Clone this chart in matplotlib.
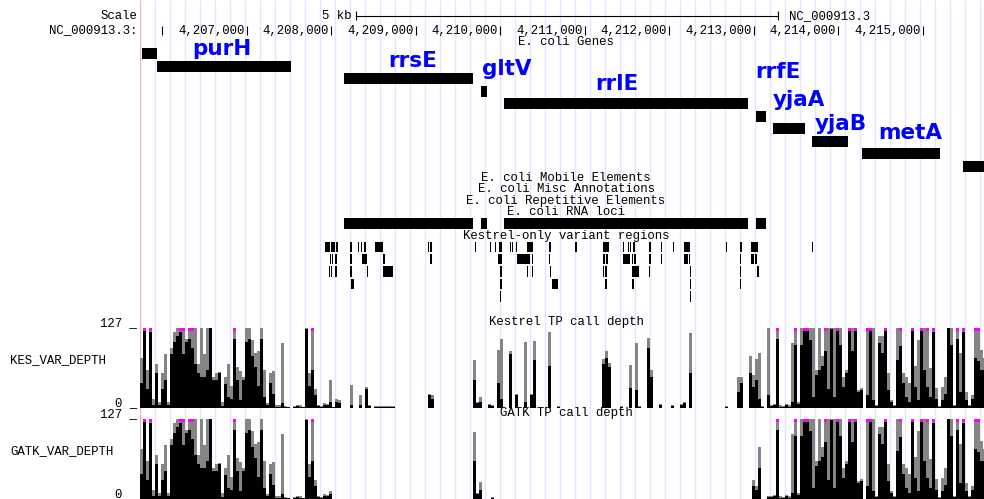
import matplotlib
matplotlib.use('Agg')
import matplotlib.pyplot as plt
import numpy as np

# browser window (bp) and image layout (px)
win_start = 4205734
win_end = 4215722
img_w, img_h = 984, 499
data_left = 140

# E. coli Genes
gene_names = ['', 'purH', 'rrsE', 'gltV', 'rrlE', 'rrfE', 'yjaA', 'yjaB', 'metA', '']
gene_starts = [4205758, 4205935, 4208148, 4209769, 4210042, 4213024, 4213225, 4213686, 4214278, 4215473]
gene_ends = [4205935, 4207521, 4209675, 4209840, 4212929, 4213142, 4213604, 4214112, 4215201, 4216000]
label_x = [0, 4206704, 4208965, 4210077, 4211379, 4213284, 4213533, 4214030, 4214846, 0]
label_y = [0, 55, 67, 75, 90, 78, 106, 130, 139, 0]

# E. coli RNA loci
rna_starts = [4208148, 4209769, 4210042, 4213024]
rna_ends = [4209675, 4209840, 4212929, 4213142]

# Kestrel-only variant regions (start, end, packed row)
var_starts = [
    4207923, 4207994, 4208053, 4208219, 4208314, 4208349, 4208385, 4208515, 4209142, 4209166,
    4209698, 4209876, 4209935, 4209982, 4210113, 4210136, 4210184, 4210314, 4210574, 4210882,
    4211213, 4211450, 4211509, 4211533, 4211568, 4211758, 4211900, 4212042, 4212172, 4212669,
    4212834, 4212965, 4213686,
    4207982, 4208006, 4208042, 4208219, 4208361, 4208610, 4209166, 4209971, 4210195, 4210373,
    4210574, 4211213, 4211249, 4211450, 4211556, 4211580, 4211758, 4211900, 4212172, 4212231,
    4212834, 4212965, 4213012,
    4207971, 4207994, 4208042, 4208219, 4208420, 4208610, 4209994, 4210314, 4210373, 4210586,
    4211213, 4211237, 4211556, 4211758, 4212243, 4212834, 4213036,
    4208231, 4209994, 4210610, 4211237, 4211556, 4212243, 4212834,
    4209994, 4212243]
var_ends = [
    4207982, 4208042, 4208077, 4208243, 4208326, 4208361, 4208408, 4208610, 4209154, 4209190,
    4209710, 4209888, 4209947, 4210018, 4210124, 4210148, 4210195, 4210385, 4210598, 4210906,
    4211284, 4211462, 4211521, 4211545, 4211592, 4211781, 4211911, 4212053, 4212243, 4212681,
    4212858, 4213047, 4213698,
    4207994, 4208018, 4208065, 4208243, 4208420, 4208633, 4209190, 4210018, 4210349, 4210385,
    4210586, 4211237, 4211272, 4211533, 4211568, 4211604, 4211781, 4211911, 4212219, 4212243,
    4212846, 4213000, 4213036,
    4207982, 4208006, 4208065, 4208243, 4208432, 4208728, 4210018, 4210326, 4210385, 4210598,
    4211225, 4211260, 4211639, 4211769, 4212255, 4212846, 4213059,
    4208266, 4210018, 4210681, 4211260, 4211580, 4212255, 4212846,
    4210006, 4212255]
var_rows = [0] * 33 + [1] * 23 + [2] * 17 + [3] * 7 + [4] * 2

# depth summaries, one value per 35.5 bp bin (values above 127 are clipped)
depth_start = 4205734
depth_step = 35.5
kes_max = [
    80, 140, 60, 140, 15, 70, 10, 55, 85, 10,
    95, 120, 127, 140, 140, 110, 140, 140, 127, 70,
    127, 85, 127, 127, 50, 55, 57, 10, 50, 70,
    35, 140, 65, 58, 50, 127, 127, 108, 87, 90,
    127, 60, 8, 55, 58, 4, 5, 103, 3, 2,
    0, 3, 5, 4, 2, 127, 55, 140, 30, 5,
    3, 8, 6, 45, 2, 14, 12, 0, 0, 0,
    37, 0, 0, 20, 0, 34, 5, 0, 3, 3,
    3, 3, 3, 3, 3, 0, 0, 0, 0, 0,
    0, 0, 0, 0, 0, 0, 23, 20, 0, 0,
    0, 0, 0, 0, 0, 0, 0, 0, 0, 0,
    0, 76, 10, 18, 0, 0, 7, 4, 0, 92,
    109, 0, 0, 91, 0, 23, 0, 0, 105, 0,
    23, 107, 0, 0, 0, 0, 121, 0, 0, 3,
    0, 0, 0, 0, 0, 0, 0, 0, 0, 0,
    0, 0, 0, 0, 77, 90, 71, 0, 0, 0,
    3, 0, 0, 68, 0, 103, 3, 0, 0, 111,
    60, 0, 0, 7, 0, 0, 0, 4, 0, 0,
    7, 10, 0, 119, 0, 0, 0, 0, 0, 0,
    0, 0, 0, 0, 0, 3, 0, 0, 0, 50,
    50, 0, 0, 82, 53, 78, 87, 3, 0, 127,
    5, 7, 140, 4, 3, 7, 5, 103, 140, 10,
    127, 140, 140, 127, 127, 60, 127, 82, 140, 127,
    127, 127, 140, 127, 50, 61, 140, 127, 140, 29,
    32, 0, 140, 140, 127, 5, 114, 114, 140, 55,
    13, 5, 127, 140, 55, 50, 39, 140, 66, 108,
    140, 127, 140, 63, 140, 31, 3, 34, 50, 127,
    127, 5, 140, 87, 140, 26, 5, 20, 140, 140,
    92, 80]
kes_mean = [
    40, 127, 30, 120, 5, 55, 5, 30, 45, 5,
    85, 105, 115, 120, 85, 105, 110, 95, 70, 55,
    50, 50, 60, 127, 45, 45, 55, 3, 38, 18,
    15, 110, 45, 12, 45, 105, 110, 82, 65, 35,
    110, 18, 5, 40, 23, 2, 2, 8, 1, 1,
    0, 2, 3, 2, 1, 125, 35, 60, 20, 3,
    2, 5, 4, 10, 1, 10, 8, 0, 0, 0,
    5, 0, 0, 5, 0, 30, 3, 0, 2, 2,
    2, 2, 2, 2, 2, 0, 0, 0, 0, 0,
    0, 0, 0, 0, 0, 0, 20, 15, 0, 0,
    0, 0, 0, 0, 0, 0, 0, 0, 0, 0,
    0, 45, 8, 10, 0, 0, 5, 3, 0, 40,
    15, 0, 0, 85, 0, 20, 0, 0, 10, 0,
    20, 76, 0, 0, 0, 0, 66, 0, 0, 2,
    0, 0, 0, 0, 0, 0, 0, 0, 0, 0,
    0, 0, 0, 0, 70, 80, 65, 0, 0, 0,
    2, 0, 0, 31, 0, 29, 2, 0, 0, 95,
    50, 0, 0, 5, 0, 0, 0, 3, 0, 0,
    5, 8, 0, 55, 0, 0, 0, 0, 0, 0,
    0, 0, 0, 0, 0, 2, 0, 0, 0, 26,
    40, 0, 0, 55, 34, 45, 15, 2, 0, 20,
    3, 5, 110, 2, 1, 5, 2, 10, 100, 7,
    100, 127, 127, 108, 18, 52, 60, 66, 90, 30,
    125, 18, 127, 100, 34, 55, 127, 90, 125, 26,
    29, 0, 20, 127, 13, 3, 103, 87, 127, 29,
    10, 3, 76, 98, 39, 18, 10, 127, 34, 13,
    127, 61, 34, 18, 120, 15, 2, 13, 23, 127,
    100, 3, 110, 26, 120, 13, 3, 15, 79, 74,
    61, 60]
gatk_max = [
    80, 140, 60, 140, 15, 70, 10, 55, 85, 10,
    95, 120, 127, 140, 140, 110, 140, 140, 127, 70,
    127, 85, 127, 127, 50, 55, 57, 10, 50, 70,
    35, 140, 65, 58, 50, 127, 127, 108, 87, 90,
    127, 60, 8, 55, 58, 4, 5, 103, 3, 2,
    0, 3, 5, 4, 2, 127, 55, 140, 30, 5,
    3, 8, 6, 12, 0, 0, 0, 0, 0, 0,
    0, 0, 0, 0, 0, 0, 0, 0, 0, 0,
    0, 0, 0, 0, 0, 0, 0, 0, 0, 0,
    0, 0, 0, 0, 0, 0, 0, 0, 0, 0,
    0, 0, 0, 0, 0, 0, 0, 0, 0, 0,
    0, 107, 10, 27, 0, 0, 0, 3, 0, 0,
    0, 0, 0, 0, 0, 0, 0, 0, 0, 0,
    0, 0, 0, 0, 0, 0, 0, 0, 0, 0,
    0, 0, 0, 0, 0, 0, 0, 0, 0, 0,
    0, 0, 0, 0, 0, 0, 0, 0, 0, 0,
    0, 0, 0, 0, 0, 0, 0, 0, 0, 0,
    0, 0, 0, 0, 0, 0, 0, 0, 0, 0,
    0, 0, 0, 0, 0, 0, 0, 0, 0, 0,
    0, 0, 0, 0, 0, 0, 0, 0, 0, 0,
    0, 0, 0, 0, 30, 20, 83, 0, 0, 5,
    5, 7, 140, 4, 3, 7, 5, 103, 140, 10,
    127, 140, 140, 127, 127, 60, 127, 82, 140, 127,
    127, 127, 140, 127, 50, 61, 140, 127, 140, 29,
    32, 0, 140, 140, 127, 5, 114, 114, 140, 55,
    13, 5, 127, 140, 55, 50, 39, 140, 66, 108,
    140, 127, 140, 63, 140, 31, 3, 34, 50, 127,
    127, 5, 140, 87, 140, 26, 5, 20, 140, 140,
    92, 80]
gatk_mean = [
    40, 127, 30, 120, 5, 55, 5, 30, 45, 5,
    85, 105, 115, 120, 85, 105, 110, 95, 70, 55,
    50, 50, 60, 127, 45, 45, 55, 3, 38, 18,
    15, 110, 45, 12, 45, 105, 110, 82, 65, 35,
    110, 18, 5, 40, 23, 2, 2, 8, 1, 1,
    0, 2, 3, 2, 1, 125, 35, 60, 20, 3,
    2, 5, 4, 8, 0, 0, 0, 0, 0, 0,
    0, 0, 0, 0, 0, 0, 0, 0, 0, 0,
    0, 0, 0, 0, 0, 0, 0, 0, 0, 0,
    0, 0, 0, 0, 0, 0, 0, 0, 0, 0,
    0, 0, 0, 0, 0, 0, 0, 0, 0, 0,
    0, 60, 8, 15, 0, 0, 0, 2, 0, 0,
    0, 0, 0, 0, 0, 0, 0, 0, 0, 0,
    0, 0, 0, 0, 0, 0, 0, 0, 0, 0,
    0, 0, 0, 0, 0, 0, 0, 0, 0, 0,
    0, 0, 0, 0, 0, 0, 0, 0, 0, 0,
    0, 0, 0, 0, 0, 0, 0, 0, 0, 0,
    0, 0, 0, 0, 0, 0, 0, 0, 0, 0,
    0, 0, 0, 0, 0, 0, 0, 0, 0, 0,
    0, 0, 0, 0, 0, 0, 0, 0, 0, 0,
    0, 0, 0, 0, 20, 15, 50, 0, 0, 3,
    3, 5, 110, 2, 1, 5, 2, 10, 100, 7,
    100, 127, 127, 108, 18, 52, 60, 66, 90, 30,
    125, 18, 127, 100, 34, 55, 127, 90, 125, 26,
    29, 0, 20, 127, 13, 3, 103, 87, 127, 29,
    10, 3, 76, 98, 39, 18, 10, 127, 34, 13,
    127, 61, 34, 18, 120, 15, 2, 13, 23, 127,
    100, 3, 110, 26, 120, 13, 3, 15, 79, 74,
    61, 60]

mono = ['Liberation Mono', 'DejaVu Sans Mono']
fs = 8.9

fig = plt.figure(figsize=(img_w / 100, img_h / 100), dpi=100)
fig.patch.set_facecolor('white')

# full-image axes in pixels for the left-hand labels
bg = fig.add_axes([0, 0, 1, 1])
bg.set_xlim(0, img_w)
bg.set_ylim(img_h, 0)
bg.axis('off')

# data axes: genomic x, pixel y
ax = fig.add_axes([data_left / img_w, 0, (img_w - data_left) / img_w, 1])
ax.set_xlim(win_start, win_end)
ax.set_ylim(img_h, 0)
ax.axis('off')
ax.patch.set_visible(False)

bp_px = (win_end - win_start) / (img_w - data_left)

# guide lines every 15 px
grid = win_start + np.arange(0, 57) * 15 * bp_px
ax.vlines(grid[1:], 0, img_h, color='#e3e3ff', lw=0.9, zorder=0)
ax.vlines(grid[0] + 0.5 * bp_px, 0, img_h, color='#f4b0b0', lw=0.9, zorder=0)

# ---- base position / scale ----
bg.text(137, 16, 'Scale', ha='right', va='center', family=mono, fontsize=fs)
bg.text(137, 30.5, 'NC_000913.3:', ha='right', va='center', family=mono, fontsize=fs)
sb_center = (win_start + win_end) / 2 + 5 * bp_px
sb0, sb1 = sb_center - 2500, sb_center + 2500
ax.plot([sb0, sb1], [15.5, 15.5], color='black', lw=0.8)
ax.vlines([sb0, sb1], 11, 20, color='black', lw=0.8)
ax.text(sb0 - 4 * bp_px, 16, '5 kb', ha='right', va='center', family=mono, fontsize=fs)
ax.text(sb1 + 11 * bp_px, 16, 'NC_000913.3', ha='left', va='center', family=mono, fontsize=fs)
ticks = np.arange(4206000, 4216000, 1000)
ax.vlines(ticks, 25.5, 35, color='black', lw=0.8)
for t in ticks[1:]:
    ax.text(t - 2.5 * bp_px, 30.5, f'{t:,}', ha='right', va='center', family=mono, fontsize=fs)

mid = (win_start + win_end) / 2 + 4 * bp_px

# ---- genes ----
ax.text(mid, 41.5, 'E. coli Genes', ha='center', va='center', family=mono, fontsize=fs)
for k, (s, e) in enumerate(zip(gene_starts, gene_ends)):
    ax.bar(s, 11, width=e - s, bottom=48 + 12.55 * k, align='edge', color='black',
           linewidth=0, antialiased=False)
for name, lx, ly in zip(gene_names, label_x, label_y):
    if name:
        ax.text(lx, ly, name, ha='center', va='baseline', color='#0000ff',
                fontsize=15.5, fontweight='bold', family='DejaVu Sans')

# ---- other annotation tracks ----
for y, txt in [(178, 'E. coli Mobile Elements'), (189.5, 'E. coli Misc Annotations'),
               (201, 'E. coli Repetitive Elements'), (212, 'E. coli RNA loci'),
               (236, 'Kestrel-only variant regions')]:
    ax.text(mid, y, txt, ha='center', va='center', family=mono, fontsize=fs)
rs = np.array(rna_starts)
ax.bar(rs, 11, width=np.array(rna_ends) - rs, bottom=218, align='edge', color='black',
       linewidth=0, antialiased=False)

vs = np.array(var_starts)
vw = np.maximum(np.array(var_ends) - vs, bp_px)
ax.bar(vs, 10.5, width=vw, bottom=241.5 + 12.4 * np.array(var_rows), align='edge',
       color='black', linewidth=0, antialiased=False)


# ---- depth tracks ----
def depth_track(vmax, vmean, base, title, side):
    vmax = np.array(vmax, float)
    vmean = np.array(vmean, float)
    x = depth_start + np.arange(len(vmax)) * depth_step
    hmax = np.minimum(vmax, 127) / 127 * 80
    hmean = np.minimum(vmean, 127) / 127 * 80
    ax.bar(x, hmax, width=depth_step, bottom=base - hmax, align='edge', color='#858585',
           linewidth=0, antialiased=False)
    ax.bar(x, hmean, width=depth_step, bottom=base - hmean, align='edge', color='black',
           linewidth=0, antialiased=False)
    clip = vmax > 127
    ax.bar(x[clip], 2.5, width=depth_step, bottom=base - 80, align='edge', color='#ff00ff',
           linewidth=0, antialiased=False)
    ax.text(mid, base - 86, title, ha='center', va='center', family=mono, fontsize=fs)
    bg.text(137, base - 81.5, '127 _', ha='right', va='baseline', family=mono, fontsize=fs)
    bg.text(137, base - 2, '0 _', ha='right', va='baseline', family=mono, fontsize=fs)
    bg.text(10, base - 48, side, ha='left', va='center', family=mono, fontsize=fs)


depth_track(kes_max, kes_mean, 408, 'Kestrel TP call depth', 'KES_VAR_DEPTH')
depth_track(gatk_max, gatk_mean, 499, 'GATK TP call depth', 'GATK_VAR_DEPTH')

fig.savefig('out.png', dpi=100)
